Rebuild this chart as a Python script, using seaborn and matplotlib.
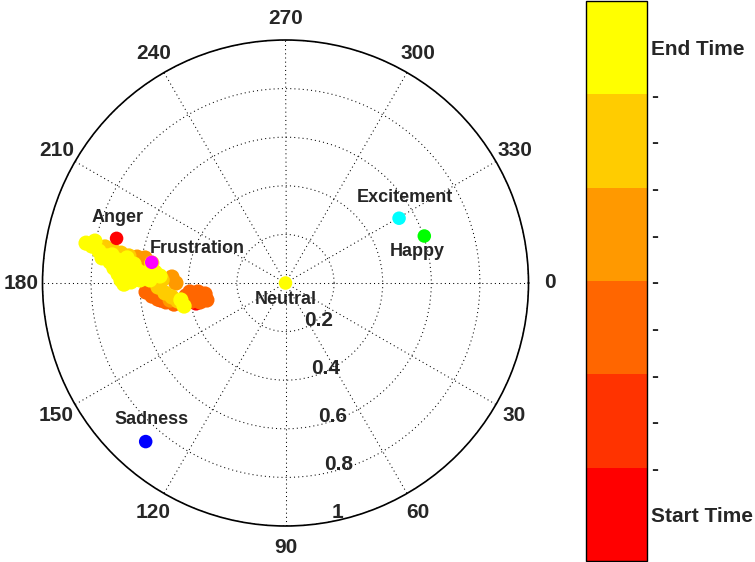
import numpy as np
import pandas as pd
import matplotlib
matplotlib.use("Agg")
import matplotlib.pyplot as plt
from matplotlib.colors import ListedColormap, Normalize
from matplotlib.cm import ScalarMappable
import seaborn as sns

# emotion anchors: angle (deg, clockwise from east), radius
emotions = ["Anger", "Frustration", "Excitement", "Happy", "Neutral", "Sadness"]
emotion_theta = [194.8, 188.8, 330.3, 341.3, 0.0, 131.4]
emotion_r = [0.719, 0.557, 0.538, 0.603, 0.0, 0.870]
emotion_colors = ["#ff0000", "#ff00ff", "#00ffff", "#00ff00", "#ffff00", "#0000ff"]

traj_theta = [168.4, 167.4,
              170.6, 172.2,
              167.8, 172.2, 174.1, 167.5, 169.1, 172.6, 174.6, 169.3, 172.8, 174.4, 176.3, 178.3, 171.0,
              180.0, 183.0, 190.1, 189.9, 187.2, 171.6,
              191.3, 190.8, 190.3, 189.8, 181.4, 178.2, 175.3, 173.0, 170.5, 190.9,
              191.3, 190.8, 192.4, 189.7, 188.6, 186.8, 185.0, 183.1, 181.0, 179.6,
              189.2, 187.8, 186.0, 183.3, 180.4, 189.0, 187.1, 184.7, 181.2, 184.1,
              181.3, 184.8, 183.2, 170.8, 167.2, 187.8, 188.5]
traj_r = [0.347, 0.377,
          0.377, 0.517,
          0.331, 0.334, 0.362, 0.360, 0.392, 0.413, 0.395, 0.467, 0.529, 0.552, 0.575, 0.562, 0.498,
          0.451, 0.468, 0.587, 0.620, 0.591, 0.480,
          0.757, 0.723, 0.688, 0.654, 0.508, 0.525, 0.498, 0.471, 0.449, 0.786,
          0.837, 0.811, 0.803, 0.779, 0.747, 0.727, 0.709, 0.690, 0.677, 0.665,
          0.723, 0.696, 0.664, 0.649, 0.636, 0.660, 0.628, 0.609, 0.599, 0.576,
          0.558, 0.539, 0.517, 0.436, 0.428, 0.762, 0.556]
traj_time = [0.3, 0.7,
             1.3, 1.7,
             2.04, 2.11, 2.18, 2.25, 2.32, 2.39, 2.46, 2.53, 2.60, 2.67, 2.74, 2.81, 2.88,
             3.1, 3.25, 3.4, 3.55, 3.7, 3.85,
             4.05, 4.15, 4.25, 4.35, 4.45, 4.55, 4.65, 4.75, 4.85, 4.95,
             5.02, 5.06, 5.10, 5.14, 5.18, 5.22, 5.26, 5.30, 5.34, 5.38,
             5.42, 5.46, 5.50, 5.54, 5.58, 5.62, 5.66, 5.70, 5.74, 5.78,
             5.82, 5.86, 5.90, 5.93, 5.95, 5.97, 5.99]

time_colors = ["#ff0000", "#ff3300", "#ff6600", "#ff9900", "#ffcc00", "#ffff00"]
r_ticks = [0.2, 0.4, 0.6, 0.8, 1.0]
r_labels = ["0.2", "0.4", "0.6", "0.8", "1"]
cbar_ticks = [0.5, 1.0, 1.5, 2.0, 2.5, 3.0, 3.5, 4.0, 4.5, 5.0, 5.5]
cbar_labels = ["Start Time"] + ["-"] * 9 + ["End Time"]

sns.set_style("white")
plt.rcParams["font.family"] = ["Liberation Sans", "DejaVu Sans"]

fig = plt.figure(figsize=(7.55, 5.62), dpi=100)
ax = fig.add_axes([42.5 / 755, 36 / 562, 486 / 755, 486 / 562], projection="polar")
ax.set_theta_zero_location("E")
ax.set_theta_direction(-1)

cmap = ListedColormap(time_colors)
traj = pd.DataFrame({"theta": np.deg2rad(traj_theta), "r": traj_r, "time": traj_time})
sns.scatterplot(data=traj, x="theta", y="r", hue="time", palette=cmap, hue_norm=(0, 6),
                s=120, linewidth=0, legend=False, ax=ax, zorder=3)

emo = pd.DataFrame({"emotion": emotions, "theta": np.deg2rad(emotion_theta), "r": emotion_r})
sns.scatterplot(data=emo, x="theta", y="r", hue="emotion",
                palette=dict(zip(emotions, emotion_colors)),
                s=95, linewidth=0, legend=False, ax=ax, zorder=4)

# emotion names next to their markers
label_offsets = {"Anger": (1, 21, "center"), "Frustration": (-2, 14, "left"),
                 "Excitement": (6, 21, "center"), "Happy": (-7, -15, "center"),
                 "Neutral": (0, -17, "center"), "Sadness": (6, 22, "center")}
for name, th, rr in zip(emotions, emotion_theta, emotion_r):
    dx, dy, ha = label_offsets[name]
    ax.annotate(name, xy=(np.deg2rad(th), rr), xytext=(dx, dy), textcoords="offset pixels",
                ha=ha, va="center", fontsize=13, fontweight="bold", zorder=5)

ax.set_xlabel("")
ax.set_ylabel("")
ax.set_ylim(0, 1)
ax.set_rticks(r_ticks)
ax.set_yticklabels([])
ax.set_thetagrids(range(0, 360, 30), [str(a) for a in range(0, 360, 30)],
                  fontsize=15, fontweight="bold")
ax.tick_params(axis="x", pad=5)
ax.grid(True, color="black", linestyle=(0, (1, 3)), linewidth=0.75)
ax.spines["polar"].set_linewidth(1.2)
ax.spines["polar"].set_color("black")

for rv, lab in zip(r_ticks, r_labels):
    ax.annotate(lab, xy=(np.deg2rad(82), rv), xytext=(12, 11), textcoords="offset pixels",
                ha="left", va="center", fontsize=15, fontweight="bold")

# discrete time colorbar
cax = fig.add_axes([585.5 / 755, 1 / 562, 61 / 755, 560 / 562])
cb = fig.colorbar(ScalarMappable(norm=Normalize(0, 6), cmap=cmap), cax=cax, ticks=cbar_ticks)
cb.set_ticklabels(cbar_labels)
cb.outline.set_linewidth(1)
cb.outline.set_edgecolor("black")
cax.tick_params(direction="in", left=True, right=True, length=4, width=1, pad=3, labelsize=15)
for lab in cax.get_yticklabels():
    lab.set_fontweight("bold")

plt.savefig("out.png", dpi=100)
